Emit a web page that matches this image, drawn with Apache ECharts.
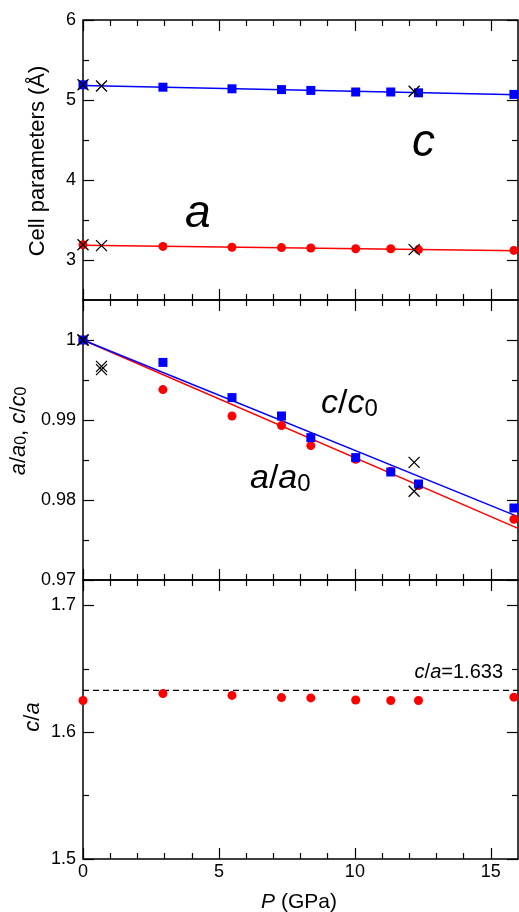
<!DOCTYPE html>
<html>
<head>
<meta charset="utf-8">
<title>Cell parameters vs pressure</title>
<script src="https://cdn.jsdelivr.net/npm/echarts@6/dist/echarts.min.js"></script>
<style>
  html, body { margin: 0; padding: 0; background: #fff; }
  #chart { width: 519px; height: 912px; }
</style>
</head>
<body>
<div id="chart"></div>
<script>
// Pressure points (GPa) for the filled markers
const pressure = [0, 2.94, 5.48, 7.30, 8.38, 10.03, 11.32, 12.34, 15.85];
// Lattice parameters (Å)
const cellA = [3.19, 3.17, 3.16, 3.155, 3.15, 3.14, 3.14, 3.13, 3.12];
const cellC = [5.19, 5.16, 5.14, 5.13, 5.12, 5.10, 5.10, 5.09, 5.07];
// Normalised parameters
const ratioA = [1.0, 0.9938, 0.9905, 0.9893, 0.9868, 0.9851, 0.9836, 0.9818, 0.9776];
const ratioC = [1.0, 0.9972, 0.9928, 0.9905, 0.9878, 0.9853, 0.9835, 0.9820, 0.9790];
// Axial ratio c/a
const ratioCA = [1.625, 1.6305, 1.629, 1.6273, 1.627, 1.6254, 1.625, 1.625, 1.6276];

// Second data set (cross markers)
const crossP = [0, 0.68, 12.18];
const crossA = [3.19, 3.18, 3.13];
const crossC = [5.19, 5.175, 5.11];
const crossRatioA = [1.0, 0.9963, 0.9811];
const crossRatioC = [1.0, 0.9967, 0.9847];

// Linear fits, evaluated at the ends of the pressure range
const fitP = [0, 16];
const fitA = [3.183, 3.116];
const fitC = [5.18, 5.066];
const fitRatioA = [1.0, 0.97646];
const fitRatioC = [1.0, 0.97792];
// Ideal hcp axial ratio
const idealCA = 1.633;

// Tick positions
const xMajor = [0, 5, 10, 15];
const xMinor = [1, 2, 3, 4, 6, 7, 8, 9, 11, 12, 13, 14];
const yTopMajor = [3, 4, 5, 6];
const yTopMinor = [3.5, 4.5, 5.5];
const yMidMajor = [0.97, 0.98, 0.99, 1];
const yMidMinor = [0.975, 0.985, 0.995];
const yBotMajor = [1.5, 1.6, 1.7];
const yBotMinor = [1.55, 1.65];

const FONT = '"Liberation Sans", Arial, Helvetica, sans-serif';
const BLUE = '#0000ff';
const RED = '#ff0000';
const zip = (xs, ys) => xs.map((x, i) => [x, ys[i]]);

const tickStyle = { color: '#000', width: 1.2 };
const labelStyle = { color: '#000', fontSize: 18, fontFamily: FONT };

function makeAxis(dim, gi, position, min, max, ticks, len, labels) {
  return {
    type: 'value',
    gridIndex: gi,
    position: position,
    min: min,
    max: max,
    axisLine: { show: false, onZero: false },
    axisTick: { show: true, inside: true, length: len, customValues: ticks, lineStyle: tickStyle },
    axisLabel: labels
      ? Object.assign({ show: true, customValues: labels, margin: dim === 'x' ? 4 : 7 }, labelStyle)
      : { show: false },
    splitLine: { show: false },
    minorTick: { show: false }
  };
}

const grids = [
  { left: 83, top: 20, width: 435, height: 280 },
  { left: 83, top: 300, width: 435, height: 280 },
  { left: 83, top: 580, width: 435, height: 279 }
].map(g => Object.assign(g, { show: true, borderColor: '#000', borderWidth: 1.5, backgroundColor: 'transparent' }));

const yRanges = [
  { min: 2.5, max: 6, major: yTopMajor, minor: yTopMinor },
  { min: 0.97, max: 1.005, major: yMidMajor, minor: yMidMinor },
  { min: 1.5, max: 1.72, major: yBotMajor, minor: yBotMinor }
];

const xAxis = [];
const yAxis = [];
yRanges.forEach((r, gi) => {
  const showX = gi === 2 ? xMajor : null;
  // index gi*4 is the main axis of each grid
  xAxis.push(makeAxis('x', gi, 'bottom', 0, 16, xMajor, 11, showX));
  xAxis.push(makeAxis('x', gi, 'bottom', 0, 16, xMinor, 6, null));
  xAxis.push(makeAxis('x', gi, 'top', 0, 16, xMajor, 11, null));
  xAxis.push(makeAxis('x', gi, 'top', 0, 16, xMinor, 6, null));
  yAxis.push(makeAxis('y', gi, 'left', r.min, r.max, r.major, 11, r.major));
  yAxis.push(makeAxis('y', gi, 'left', r.min, r.max, r.minor, 6, null));
  yAxis.push(makeAxis('y', gi, 'right', r.min, r.max, r.major, 11, null));
  yAxis.push(makeAxis('y', gi, 'right', r.min, r.max, r.minor, 6, null));
});

function fitLine(gi, xs, ys, color) {
  return {
    type: 'line', xAxisIndex: gi * 4, yAxisIndex: gi * 4,
    data: zip(xs, ys), showSymbol: false, symbol: 'none', silent: true,
    lineStyle: { color: color, width: 1.5 }, z: 2
  };
}
function markers(gi, xs, ys, symbol, color, size) {
  return {
    type: 'scatter', xAxisIndex: gi * 4, yAxisIndex: gi * 4,
    data: zip(xs, ys), symbol: symbol, symbolSize: size, silent: true,
    itemStyle: { color: color, opacity: 1 }, z: 3
  };
}
function crosses(gi, xs, ys) {
  return {
    type: 'scatter', xAxisIndex: gi * 4, yAxisIndex: gi * 4,
    data: zip(xs, ys), symbol: 'path://M0 0L10 10M10 0L0 10', symbolSize: 11, silent: true,
    itemStyle: { color: 'transparent', borderColor: '#000', borderWidth: 1.3, opacity: 1 }, z: 4
  };
}

const series = [
  // Lattice parameters
  fitLine(0, fitP, fitC, BLUE),
  fitLine(0, fitP, fitA, RED),
  markers(0, pressure, cellA, 'circle', RED, 9),
  markers(0, pressure, cellC, 'rect', BLUE, 9),
  crosses(0, crossP, crossC),
  crosses(0, crossP, crossA),
  // Normalised parameters
  fitLine(1, fitP, fitRatioA, RED),
  fitLine(1, fitP, fitRatioC, BLUE),
  markers(1, pressure, ratioA, 'circle', RED, 9),
  markers(1, pressure, ratioC, 'rect', BLUE, 9),
  crosses(1, crossP, crossRatioC),
  crosses(1, crossP, crossRatioA),
  // Axial ratio
  {
    type: 'line', xAxisIndex: 8, yAxisIndex: 8,
    data: zip(fitP, [idealCA, idealCA]), showSymbol: false, symbol: 'none', silent: true,
    lineStyle: { color: '#000', width: 1.3, type: [6, 4] }, z: 2
  },
  markers(2, pressure, ratioCA, 'circle', RED, 9)
];

function txt(x, y, text, rich, opts) {
  return Object.assign({
    type: 'text', x: x, y: y, silent: true, z: 10,
    style: Object.assign({ text: text, rich: rich, fill: '#000', fontFamily: FONT }, opts || {})
  });
}
function richSet(size, subSize, lh, subLh) {
  return {
    i: { fontSize: size, fontStyle: 'italic', fontFamily: FONT, fill: '#000', lineHeight: lh, verticalAlign: 'bottom' },
    m: { fontSize: size, fontFamily: FONT, fill: '#000', lineHeight: lh, verticalAlign: 'bottom' },
    s: { fontSize: subSize, fontFamily: FONT, fill: '#000', lineHeight: subLh, verticalAlign: 'bottom' }
  };
}

const graphic = [
  // Panel annotations
  txt(185, 212, '{i|a}', richSet(46, 30, 50, 30), { align: 'left', verticalAlign: 'middle' }),
  txt(412, 141, '{i|c}', richSet(46, 30, 50, 30), { align: 'left', verticalAlign: 'middle' }),
  txt(321, 401, '{i|c}{m|/}{i|c}{s|0}', richSet(34, 24, 40, 22), { align: 'left', verticalAlign: 'middle' }),
  txt(250, 476, '{i|a}{m|/}{i|a}{s|0}', richSet(34, 24, 40, 22), { align: 'left', verticalAlign: 'middle' }),
  txt(503, 670, '{i|c}{m|/}{i|a}{m|=1.633}', richSet(20, 14, 24, 16), { align: 'right', verticalAlign: 'middle' }),
  // Axis titles
  Object.assign(txt(36, 161, '{m|Cell parameters (Å)}', richSet(22, 16, 26, 14), { align: 'center', verticalAlign: 'middle' }), { rotation: Math.PI / 2 }),
  Object.assign(txt(17, 431, '{i|a}{m|/}{i|a}{s|0}{m|, }{i|c}{m|/}{i|c}{s|0}', richSet(22, 16, 26, 14), { align: 'center', verticalAlign: 'middle' }), { rotation: Math.PI / 2 }),
  Object.assign(txt(31, 717, '{i|c}{m|/}{i|a}', richSet(22, 16, 26, 14), { align: 'center', verticalAlign: 'middle' }), { rotation: Math.PI / 2 }),
  txt(299, 900, '{i|P}{m| (GPa)}', richSet(21, 15, 26, 14), { align: 'center', verticalAlign: 'middle' })
];

const chart = echarts.init(document.getElementById('chart'), null, { renderer: 'canvas' });
chart.setOption({
  animation: false,
  backgroundColor: '#fff',
  grid: grids,
  xAxis: xAxis,
  yAxis: yAxis,
  series: series,
  graphic: graphic
});
</script>
</body>
</html>
